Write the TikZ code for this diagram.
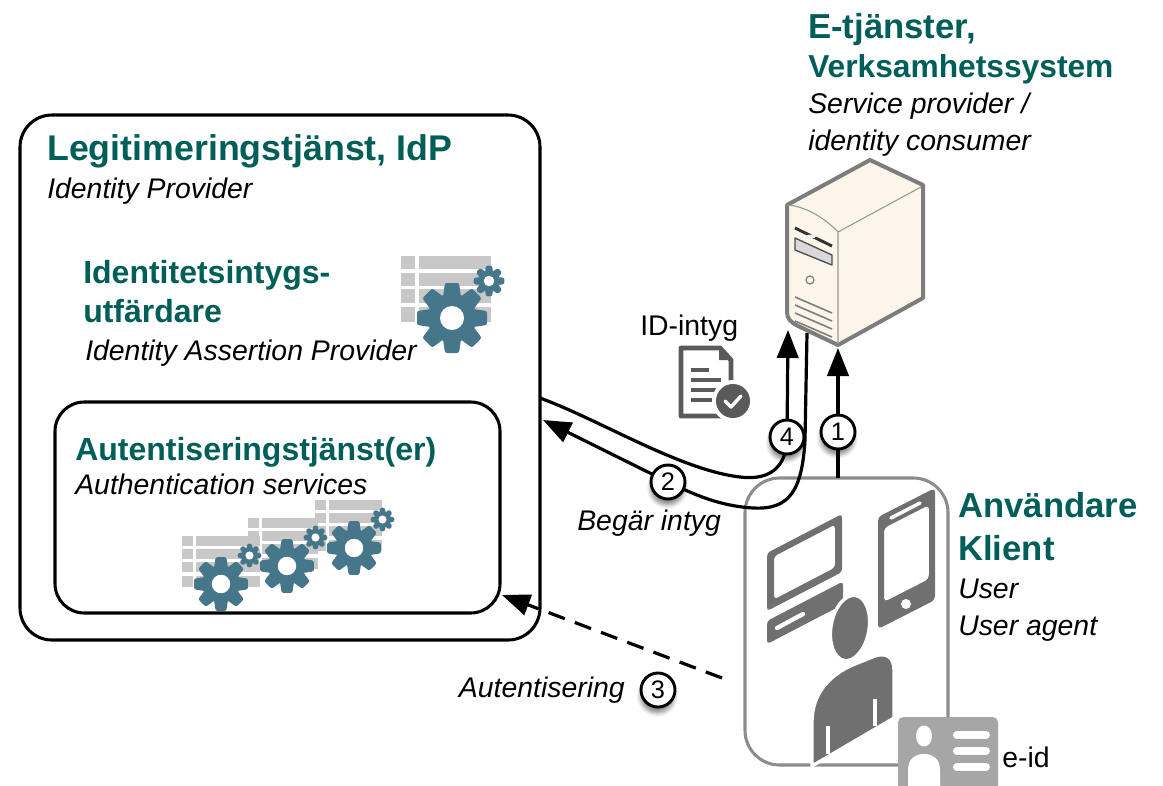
\documentclass[tikz,border=0pt]{standalone}
\usepackage{fontspec}
\setmainfont{Liberation Sans}
\usetikzlibrary{arrows.meta,shadows.blur}

\definecolor{headteal}{RGB}{0,94,89}
\definecolor{gearblue}{RGB}{69,118,137}
\definecolor{gridgray}{RGB}{200,200,200}
\definecolor{icongray}{RGB}{112,112,112}
\definecolor{cardgray}{RGB}{166,166,166}
\definecolor{docgray}{RGB}{90,90,90}
\definecolor{servfill}{RGB}{251,246,233}
\definecolor{servline}{RGB}{125,125,125}
\definecolor{clientline}{RGB}{140,140,140}

% cog with eight rounded teeth: x, y, size factor
\newcommand{\cogwheel}[3]{%
  \begin{scope}[shift={(#1,#2)}, scale=#3]
    \fill[gearblue] (0,0) circle (24.5);
    \foreach \ang in {0,45,...,315}
      \fill[gearblue, rotate=\ang, rounded corners=1.6pt]
        (-9,0) -- (-9,21) -- (-7,35) -- (7,35) -- (9,21) -- (9,0) -- cycle;
    \fill[white] (0,0) circle (12);
  \end{scope}}

\tikzset{
  every node/.style={inner sep=0pt},
  hd/.style={anchor=base west, text=headteal, font=\bfseries\fontsize{#1}{#1}\selectfont},
  it/.style={anchor=base west, font=\itshape\fontsize{21.3}{24}\selectfont},
  rg/.style={anchor=base west, font=\fontsize{21.3}{24}\selectfont},
  box/.style={draw, line width=2.3pt, fill=white},
  conn/.style={line width=2.4pt, -{Triangle[length=21pt,width=16pt]}},
  circ/.style={circle, draw, fill=white, line width=2.2pt, minimum size=25.5pt,
    font=\fontsize{19}{19}\selectfont,
    blur shadow={shadow xshift=-0.5pt, shadow yshift=-4.5pt, shadow blur radius=3pt, shadow opacity=45}},
  pics/gridicon/.style={code={
    \foreach \ya/\yb in {-62/-49,-45/-32,-29/-15,-11/4}{
      \fill[gridgray] (-51,\ya) rectangle (-37,\yb);
      \fill[gridgray] (-33,\ya) rectangle (#1,\yb);
    }}},
  pics/gearpair/.style={code={
    \cogwheel{0}{0}{1}
    \cogwheel{37}{-37}{0.44}
  }},
}

\begin{document}
\begin{tikzpicture}[x=0.75pt, y=-0.75pt]
\useasboundingbox (0,0) rectangle (1163,785);

% ---------------- identity provider ----------------
\node[box, rounded corners=24pt, minimum width=390pt, minimum height=393.75pt] (idp) at (280,377.5) {};
\node[box, rounded corners=22pt, minimum width=333.75pt, minimum height=158.25pt] (auth) at (277.5,507.5) {};

\node[hd=26.8] (idptitle) at (47,160) {Legitimeringstjänst, IdP};
\node[it] (idpsub) at (47,198) {Identity Provider};
\node[hd=24] (iaptitle1) at (83,283) {Identitetsintygs-};
\node[hd=24] (iaptitle2) at (83,322) {utfärdare};
\node[it] (iapsub) at (85,360) {Identity Assertion Provider};
\node[hd=24] (authtitle) at (75,460) {Autentiseringstjänst(er)};
\node[it] (authsub) at (75,494) {Authentication services};

% service icons
\pic at (452,318) {gridicon=39};
\pic at (452,318) {gearpair};
\pic[scale=0.77] at (221,584) {gridicon=51};
\pic[scale=0.77] at (287,566) {gridicon=40};
\pic[scale=0.77] at (354,548) {gridicon=36};
\pic[scale=0.77] at (221,584) {gearpair};
\pic[scale=0.77] at (287,566) {gearpair};
\pic[scale=0.77] at (354,548) {gearpair};

% ---------------- service provider ----------------
\node[hd=26] (sptitle1) at (808,38) {E-tjänster,};
\node[hd=23.8] (sptitle2) at (808,77) {Verksamhetssystem};
\node[it] (spsub1) at (808,113) {Service provider /};
\node[it] (spsub2) at (808,150) {identity consumer};

\begin{scope}[line join=round]
  \filldraw[fill=servfill, draw=servline, line width=3pt]
    (787,205) -- (870,160) -- (923,185) -- (923,298) -- (838,345) -- (798,326)
    .. controls (790,322) and (787,318) .. (787,312) -- cycle;
  \draw[servline!80, line width=0.8pt] (787,205) .. controls (805,206) and (825,218) .. (838,232) -- (838,344);
  \draw[servline!80, line width=0.8pt] (838,232) -- (921,187);
  \draw[line width=2.2pt, black!80] (795,228) -- (832,246);
  \fill[white!90!servline] (811,236.5) ellipse (5 and 2);
  \filldraw[fill=black!15, draw=black!70, line width=1pt] (795,238) -- (832,255) -- (832,265) -- (795,250) -- cycle;
  \draw[servline, line width=0.9pt] (810,280) circle (4);
  \foreach \dy in {0,8,16,24}
    \draw[servline, line width=1.2pt] (795,297+\dy) -- (832,313+\dy);
\end{scope}

% ---------------- assertion document ----------------
\node[rg] (idlabel) at (640,335) {ID-intyg};
\draw[docgray, line width=3.6pt, line join=round, fill=white]
  (681,348) -- (720,348) -- (731,360) -- (731,416) -- (681,416) -- cycle;
\fill[docgray] (719,348) -- (731,360) -- (719,360) -- cycle;
\draw[docgray, line width=2.4pt] (691,370) -- (709,370) (691,380) -- (721,380)
  (691,390) -- (721,390) (691,400) -- (712,400);
\fill[white] (733,401) circle (21);
\fill[docgray] (733,401) circle (17);
\draw[white, line width=2.6pt, line cap=round, line join=round] (725,401) -- (731,407) -- (741,396);

% ---------------- user / client ----------------
\node[draw=clientline, line width=2.3pt, rounded corners=26pt, minimum width=152.25pt, minimum height=215.25pt] (client) at (846.5,621.5) {};

% monitor
\fill[icongray, even odd rule, rounded corners=2.5pt]
  (767,553) -- (842,514) -- (842,572) -- (767,611) -- cycle
  (774,556.4) -- (835,524.6) -- (835,567.6) -- (774,599.4) -- cycle;
% keyboard
\fill[icongray, rounded corners=2.5pt] (767,621) -- (843,581.5) -- (843,604.5) -- (767,644) -- cycle;
\draw[white, line width=3.2pt, line cap=round] (777,628) -- (803,614);
% phone
\fill[icongray, even odd rule, rounded corners=3pt]
  (878,517) -- (935,488) -- (935,600) -- (878,629) -- cycle
  (884,528) -- (929,505) -- (929,579) -- (884,602) -- cycle;
\draw[white, line width=2.6pt, line cap=round] (891,518) -- (920,503);
\fill[white] (906,604) circle (5);
% person
\filldraw[fill=icongray, draw=white, line width=2.5pt]
  (812,766) -- (812,722) .. controls (812,695) and (828,675) .. (855,664) -- (875,656)
  .. controls (887,652) and (894,658) .. (894,670) -- (894,718) -- cycle;
\filldraw[fill=icongray, draw=white, line width=2.5pt, rotate around={-10:(850,628)}] (850,628) ellipse (19 and 33);
\draw[white, line width=3pt] (828,726) -- (828,754) (875,699) -- (875,726);
% e-id card
\fill[cardgray, rounded corners=4pt] (898,717) rectangle (998,800);
\fill[white] (924,736) ellipse (8 and 10.5);
\fill[white] (908,786) -- (908,770) .. controls (908,759) and (915,754) .. (924,754)
  .. controls (933,754) and (940,759) .. (940,770) -- (940,786) -- cycle;
\draw[white, line width=6pt, line cap=round] (957,735) -- (986,735) (957,751) -- (986,751) (957,767) -- (986,767);
\node[rg] (eid) at (1002,767) {e-id};

\node[hd=26] (usertitle1) at (958,517) {Användare};
\node[hd=26] (usertitle2) at (958,560) {Klient};
\node[it] (usersub1) at (958,598) {User};
\node[it] (usersub2) at (958,635) {User agent};

% ---------------- message flows ----------------
\coordinate (u1) at (838,478);
\coordinate (s1) at (838,348);
\coordinate (m1) at (838,432);
\coordinate (i4) at (540,398);
\coordinate (s4) at (788,330);
\coordinate (m4) at (787,437);
\coordinate (s2) at (807,333);
\coordinate (i2) at (543,420);
\coordinate (m2) at (668,482);
\coordinate (u3) at (722,678);
\coordinate (a3) at (502,595);
\coordinate (m3) at (658,690);

\draw[conn] (u1) -- (s1);
\draw[conn] (i4) .. controls (600,420) and (680,470) .. (740,477)
  .. controls (772,481) and (787,465) .. (m4) -- (s4);
\draw[conn] (s2) -- (805,440) .. controls (802,490) and (790,510) .. (753,508)
  .. controls (720,506) and (695,495) .. (m2) -- (i2);
\draw[conn, dash pattern=on 13pt off 8pt] (u3) -- (a3);

\node[circ] (n1) at (m1) {1};
\node[circ] (n2) at (m2) {2};
\node[circ] (n3) at (m3) {3};
\node[circ] (n4) at (m4) {4};

\node[it] (req) at (577,530) {Begär intyg};
\node[it, anchor=base east] (authn) at (625,697) {Autentisering};
\end{tikzpicture}
\end{document}
